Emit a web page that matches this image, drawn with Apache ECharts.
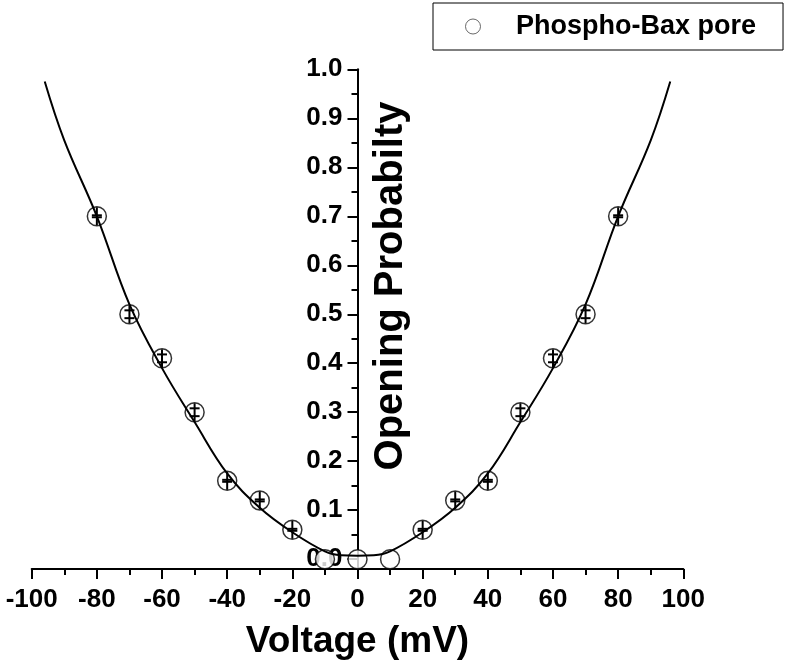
<!DOCTYPE html>
<html><head><meta charset="utf-8">
<script src="https://cdn.jsdelivr.net/npm/echarts@6/dist/echarts.min.js"></script>
<style>html,body{margin:0;padding:0;background:#fff}#c{width:791px;height:666px}</style>
</head><body><div id="c"></div>
<script>
const voltages = [-80,-70,-60,-50,-40,-30,-20,-10,0,10,20,30,40,50,60,70,80];
const probability = [0.70,0.50,0.41,0.30,0.16,0.12,0.06,0.0,0.0,0.0,0.06,0.12,0.16,0.30,0.41,0.50,0.70];
const errors = [0.002,0.008,0.008,0.008,0.002,0.002,0.002,0,0,0,0.002,0.002,0.002,0.008,0.008,0.008,0.002];
const fitVoltages = [-96,-90,-80,-70,-60,-50,-40,-30,-20,-10,-5,0,5,10,20,30,40,50,60,70,80,90,96];
const fitValues = [0.975,0.855,0.70,0.52,0.39,0.28,0.175,0.105,0.055,0.016,0.008,0.007,0.008,0.016,0.055,0.105,0.175,0.28,0.39,0.52,0.70,0.855,0.975];
const yLabelValues = [0,0.1,0.2,0.3,0.4,0.5,0.6,0.7,0.8,0.9,1.0];
const yMinorValues = [0.05,0.15,0.25,0.35,0.45,0.55,0.65,0.75,0.85,0.95];
const seriesName = 'Phospho-Bax pore';
const xTitle = 'Voltage (mV)';
const yTitle = 'Opening Probabilty';

const FONT = '"Liberation Sans", Arial, sans-serif';
const chart = echarts.init(document.getElementById('c'), null, {renderer:'canvas'});
const scatterData = voltages.map((v,i)=>[v, probability[i]]);
const errData = voltages.map((v,i)=>[v, probability[i], errors[i]]);
const fitData = fitVoltages.map((v,i)=>[v, fitValues[i]]);

const GRID_LEFT = 31.7, GRID_RIGHT = 107.7;
const plotW = 791 - GRID_LEFT - GRID_RIGHT;
const yAxisOffset = -plotW / 2; // y axis drawn through x = 0 (middle of the -100..100 range)

const option = {
  backgroundColor: '#fff',
  animation: false,
  grid: {left: GRID_LEFT, right: GRID_RIGHT, top: 69.3, bottom: 97, containLabel: false, outerBoundsMode: 'none'},
  legend: {
    show: true, left: 433, top: 3,
    padding: [10, 27, 10, 32],
    borderColor: '#000', borderWidth: 1,
    itemWidth: 76, itemHeight: 15,
    data: [{name: seriesName, icon: 'circle', itemStyle: {color: '#fff', borderColor: '#444', borderWidth: 1}}],
    textStyle: {fontFamily: FONT, fontWeight: 'bold', fontSize: 27, color: '#000'}
  },
  xAxis: {
    type: 'value', min: -100, max: 100, interval: 20,
    name: xTitle, nameLocation: 'middle', nameGap: 54,
    nameTextStyle: {fontFamily: FONT, fontWeight: 'bold', fontSize: 37, color: '#000'},
    axisLine: {show: true, onZero: false, lineStyle: {color: '#000', width: 2}},
    axisTick: {show: true, inside: false, length: 10, lineStyle: {color: '#000', width: 2}},
    minorTick: {show: true, splitNumber: 2, length: 6, lineStyle: {color: '#000', width: 2}},
    axisLabel: {margin: 18, fontFamily: FONT, fontWeight: 'bold', fontSize: 26, color: '#000'},
    splitLine: {show: false}, minorSplitLine: {show: false}
  },
  yAxis: [{
    type: 'value', min: -0.02, max: 1.0, position: 'left', offset: yAxisOffset,
    axisLine: {show: true, onZero: false, lineStyle: {color: '#000', width: 2}},
    axisTick: {show: true, inside: false, length: 10, customValues: yLabelValues, lineStyle: {color: '#000', width: 2}},
    axisLabel: {margin: 15, customValues: yLabelValues, formatter: v => Number(v).toFixed(1),
      fontFamily: FONT, fontWeight: 'bold', fontSize: 26, color: '#000'},
    splitLine: {show: false}
  }, {
    type: 'value', min: -0.02, max: 1.0, position: 'left', offset: yAxisOffset,
    axisLine: {show: false, onZero: false},
    axisTick: {show: true, inside: false, length: 6, customValues: yMinorValues, lineStyle: {color: '#000', width: 2}},
    axisLabel: {show: false},
    splitLine: {show: false}
  }],
  graphic: [{
    type: 'text', x: 391, y: 286, rotation: Math.PI / 2,
    style: {text: yTitle, fontFamily: FONT, fontWeight: 'bold', fontSize: 40, fill: '#000',
      textAlign: 'center', textVerticalAlign: 'middle'}
  }],
  series: [{
    name: seriesName, type: 'scatter', data: scatterData, symbol: 'circle', symbolSize: 19, z: 2, zlevel: 1,
    clip: false,
    itemStyle: {color: '#fff', borderColor: '#000', borderWidth: 1.5}
  }, {
    name: 'fit', type: 'line', data: fitData, smooth: 0.4, symbol: 'none', z: 3, zlevel: 1,
    lineStyle: {color: '#000', width: 2}, silent: true
  }, {
    name: 'err', type: 'custom', data: errData, z: 4, zlevel: 1, silent: true,
    renderItem: function (params, api) {
      const x = api.value(0), y = api.value(1), e = api.value(2);
      if (!e) return null;
      const c = api.coord([x, y]);
      const t = api.coord([x, y + e]);
      const b = api.coord([x, y - e]);
      const cw = 5, st = {stroke: '#000', lineWidth: 2};
      return {type: 'group', children: [
        {type: 'line', shape: {x1: c[0], y1: c[1] - 9, x2: c[0], y2: c[1] + 9}, style: st},
        {type: 'line', shape: {x1: c[0] - cw, y1: t[1], x2: c[0] + cw, y2: t[1]}, style: st},
        {type: 'line', shape: {x1: c[0] - cw, y1: b[1], x2: c[0] + cw, y2: b[1]}, style: st}
      ]};
    }
  }]
};
chart.setOption(option);
</script></body></html>
